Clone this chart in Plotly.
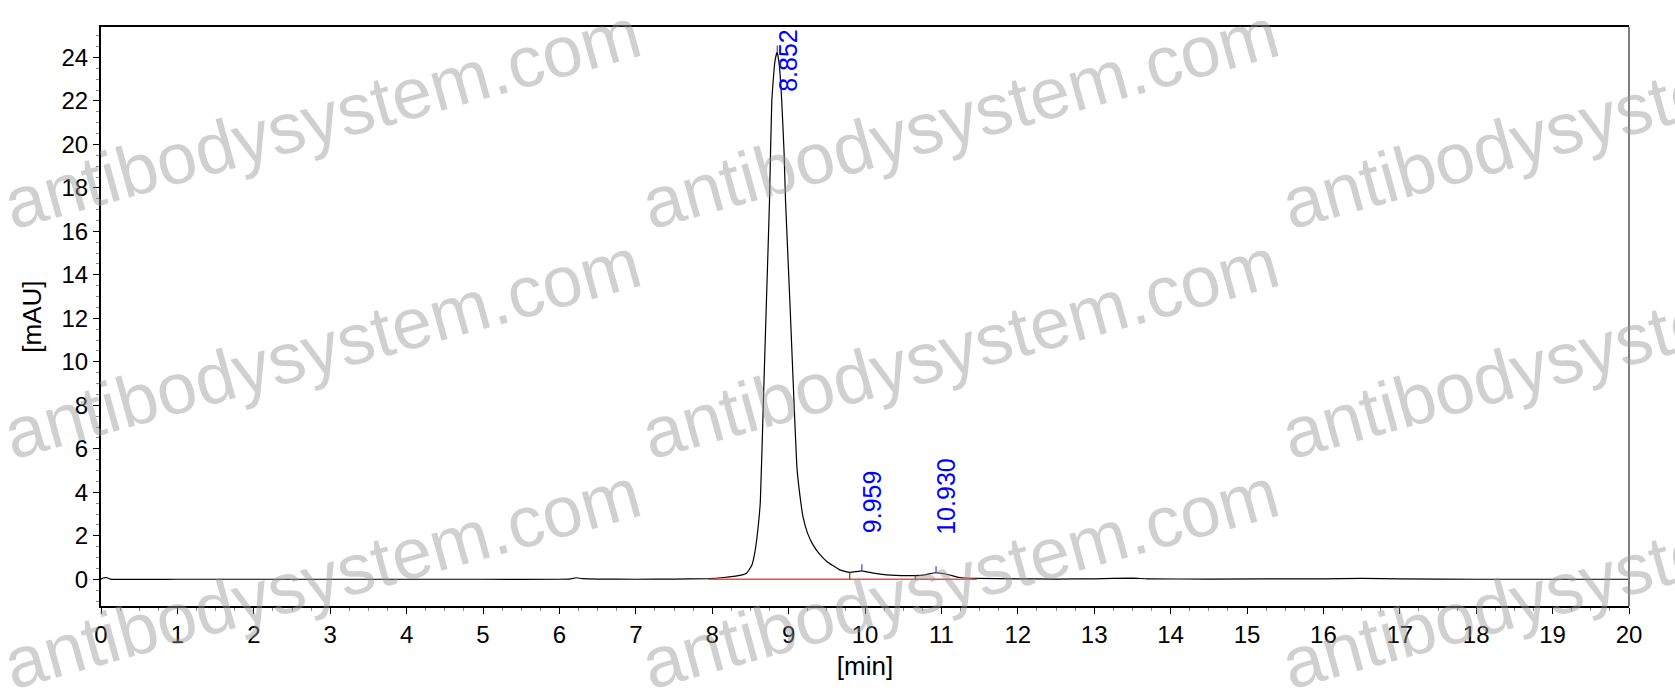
import plotly.graph_objects as go

# chromatogram (retention time in min, signal in mAU)
time_min = [0.00, 0.03, 0.08, 0.12, 1.00, 2.00, 3.00, 4.00, 5.00, 6.00,
            6.15, 6.22, 6.30, 6.50, 7.00, 7.50, 7.95, 8.15, 8.36, 8.45,
            8.52, 8.56, 8.60, 8.63, 8.67, 8.71, 8.75, 8.78, 8.82, 8.85,
            8.88, 8.91, 8.94, 8.96, 9.02, 9.07, 9.11, 9.15, 9.19, 9.25,
            9.32, 9.40, 9.50, 9.67, 9.80, 9.96, 10.11, 10.28, 10.63, 10.76,
            10.93, 11.07, 11.24, 11.45, 12.00, 12.50, 13.00, 13.50, 13.70, 14.50,
            16.00, 16.50, 17.00, 18.00, 20.00]
signal_mau = [0.00, 0.06, 0.07, 0.01, 0.00, 0.00, 0.00, 0.00, 0.00, 0.00,
              0.02, 0.07, 0.03, 0.01, 0.00, 0.01, 0.03, 0.08, 0.18, 0.28,
              0.66, 1.27, 2.36, 3.58, 8.20, 12.8, 17.4, 22.0, 23.8, 24.25,
              23.6, 22.0, 19.7, 17.4, 12.5, 8.20, 5.10, 3.80, 2.85, 2.10,
              1.58, 1.18, 0.82, 0.43, 0.32, 0.39, 0.28, 0.20, 0.17, 0.19,
              0.30, 0.23, 0.08, 0.04, 0.02, 0.01, 0.02, 0.05, 0.02, 0.01,
              0.02, 0.04, 0.02, 0.00, 0.00]

# integration results
peak_rt = [8.852, 9.959, 10.930]
peak_height = [24.25, 0.39, 0.30]
boundary_rt = [7.95, 9.80, 10.66, 11.46]
boundary_height = [0.03, 0.32, 0.18, 0.04]
baseline_rt = [7.95, 11.46]
baseline_mau = [0.0, 0.0]

x_ticks = list(range(0, 21))
y_ticks = list(range(0, 25, 2))

fig = go.Figure()

fig.add_trace(go.Scatter(x=time_min, y=signal_mau, mode="lines",
                         line=dict(color="black", width=1.2, shape="spline", smoothing=0.4),
                         hoverinfo="skip"))

fig.add_trace(go.Scatter(x=baseline_rt, y=baseline_mau, mode="lines",
                         line=dict(color="rgb(255,70,70)", width=1.5), hoverinfo="skip"))

# green boundary marks
gx, gy = [], []
for t, h in zip(boundary_rt, boundary_height):
    gx += [t, t, None]
    gy += [0, h, None]
fig.add_trace(go.Scatter(x=gx, y=gy, mode="lines",
                         line=dict(color="green", width=1.2), hoverinfo="skip"))

# blue apex marks
bx, by = [], []
for t, h in zip(peak_rt, peak_height):
    bx += [t, t, None]
    by += [h, h + 0.3, None]
fig.add_trace(go.Scatter(x=bx, y=by, mode="lines",
                         line=dict(color="rgb(60,60,255)", width=1.2), hoverinfo="skip"))

annotations = []
for t, h in zip(peak_rt, peak_height):
    a = dict(x=t, text=f"{t:.3f}", textangle=-90, showarrow=False, xanchor="center",
             xshift=10, font=dict(family="Liberation Sans, Arial", size=25, color="blue"))
    if h > 20:
        a.update(y=1, yref="paper", yanchor="top")
    else:
        a.update(y=h, yref="y", yanchor="bottom", yshift=36)
    annotations.append(a)

# watermark grid
for cx in [322, 960, 1600]:
    for cy in [118, 348, 578]:
        annotations.append(dict(
            x=(cx - 101) / 1528, y=(606 - cy) / 579, xref="paper", yref="paper",
            text="antibodysystem.com", showarrow=False, textangle=-15.5,
            xanchor="center", yanchor="middle",
            font=dict(family="Liberation Sans, Arial", size=72, color="rgba(150,150,150,0.45)")))

fig.update_layout(
    width=1675, height=693,
    margin=dict(l=101, r=46, t=27, b=87),
    paper_bgcolor="white", plot_bgcolor="white",
    showlegend=False,
    font=dict(family="Liberation Sans, Arial", size=24, color="black"),
    annotations=annotations,
    shapes=[dict(type="line", xref="paper", yref="paper", x0=1, x1=1, y0=0, y1=1,
                 line=dict(color="gray", width=2))],
)

fig.update_xaxes(
    range=[0, 20], tickvals=x_ticks, ticks="outside", ticklen=6, tickwidth=1,
    tickcolor="black", showline=True, linecolor="black", linewidth=2, mirror=True,
    showgrid=False, zeroline=False,
    minor=dict(dtick=0.25, ticks="outside", ticklen=3, tickcolor="#888", showgrid=False),
    title=dict(text="[min]", font=dict(size=26), standoff=10),
    tickfont=dict(size=24),
)
fig.update_yaxes(
    range=[-1.23, 25.4], tickvals=y_ticks, ticks="outside", ticklen=6, tickwidth=1,
    tickcolor="black", showline=True, linecolor="black", linewidth=2, mirror=False,
    showgrid=False, zeroline=False,
    minor=dict(dtick=0.5, ticks="outside", ticklen=3, tickcolor="#888", showgrid=False),
    title=dict(text="[mAU]", font=dict(size=26), standoff=12),
    tickfont=dict(size=24),
)

fig.write_html("out.html", config={"displayModeBar": False},
               post_script="document.body.style.margin='0';document.body.style.overflow='hidden';")
